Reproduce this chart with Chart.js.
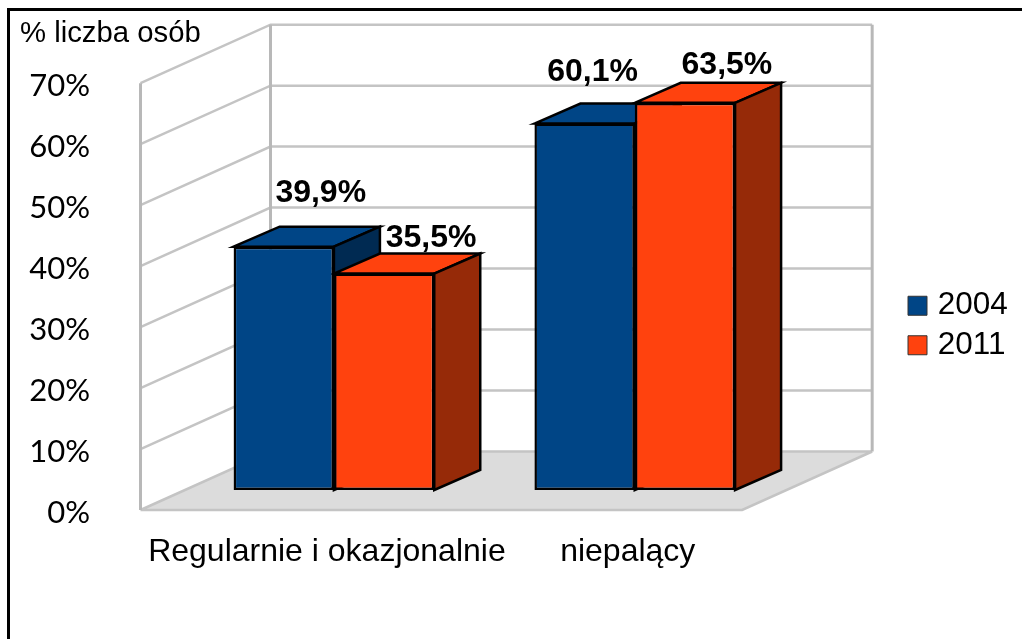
<!DOCTYPE html>
<html>
<head>
<meta charset="utf-8">
<style>
html,body{margin:0;padding:0;background:#fff;overflow:hidden}
#wrap{position:absolute;left:0;top:0;width:1022px;height:639px}
#frame{position:absolute;left:7px;top:8px;right:0;bottom:0;border-top:3px solid #000;border-left:3px solid #000;pointer-events:none}
</style>
<script src="https://cdn.jsdelivr.net/npm/chart.js@4"></script>
</head>
<body>
<div id="wrap"><canvas id="c" width="1022" height="639"></canvas><div id="frame"></div></div>
<script>
const categories = ['Regularnie i okazjonalnie', 'niepalący'];
const seriesNames = ['2004', '2011'];
const values2004 = [39.9, 60.1];
const values2011 = [35.5, 63.5];
const axisTitle = '% liczba osób';

const NAVY='#004586', ORANGE='#ff420e';
const sideColors=['#002a52','#962a08'];
const labelShift=[[[37,-54],[8,-51]],[[47,-35],[42,-38]]];

const scene3d={
  id:'scene3d',
  afterLayout(chart){
    const l=chart.legend;
    const w=l.right-l.left,h=l.bottom-l.top;
    l.left=905;l.right=l.left+w;l.top=282;l.bottom=l.top+h;
  },
  beforeDatasetsDraw(chart){
    const {ctx,chartArea:a,scales:{y}}=chart;
    const wx=130,wy=58.5,sh=43;
    const fl=a.left-sh,fr=a.right-sh;
    const y0=y.getPixelForValue(0);
    ctx.save();
    // floor
    ctx.fillStyle='#dcdcdc';
    ctx.beginPath();ctx.moveTo(fl,y0);ctx.lineTo(fl+wx,y0-wy);ctx.lineTo(fr+wx,y0-wy);ctx.lineTo(fr,y0);ctx.closePath();ctx.fill();
    // grid
    ctx.strokeStyle='#c4c4c4';ctx.lineWidth=2.5;
    y.ticks.forEach(t=>{
      const p=y.getPixelForValue(t.value);
      ctx.beginPath();ctx.moveTo(fl,p);ctx.lineTo(fl+wx,p-wy);
      ctx.lineTo(fr+wx,p-wy);
      if(t.value===0) {ctx.moveTo(fr+wx,p-wy);ctx.lineTo(fr,p);ctx.lineTo(fl,p);}
      ctx.stroke();
    });
    const pT=y.getPixelForValue(70);
    ctx.strokeStyle='#b8b8b8';ctx.lineWidth=3;
    [[fl,0],[fl+wx,wy],[fr+wx,wy]].forEach(([x,d])=>{
      ctx.beginPath();ctx.moveTo(x,pT-d);ctx.lineTo(x,y0-d);ctx.stroke();
    });
    // bar depth faces
    const dx=46,dy=20;
    ctx.strokeStyle='#000';ctx.lineWidth=2.5;ctx.lineJoin='miter';
    chart.data.datasets.forEach((ds,i)=>{
      chart.getDatasetMeta(i).data.forEach(b=>{
        const L=b.x-b.width/2,R=b.x+b.width/2,T=b.y,B=b.base;
        ctx.fillStyle=ds.backgroundColor;
        ctx.beginPath();ctx.moveTo(L,T);ctx.lineTo(L+dx,T-dy);ctx.lineTo(R+dx,T-dy);ctx.lineTo(R,T);ctx.closePath();ctx.fill();ctx.stroke();
        ctx.fillStyle=sideColors[i];
        ctx.beginPath();ctx.moveTo(R,T);ctx.lineTo(R+dx,T-dy);ctx.lineTo(R+dx,B-dy);ctx.lineTo(R,B);ctx.closePath();ctx.fill();ctx.stroke();
      });
    });
    ctx.restore();
  },
  afterDatasetsDraw(chart){
    const {ctx}=chart;
    ctx.save();
    ctx.font='bold 32px "Liberation Sans"';ctx.fillStyle='#000';ctx.textAlign='center';ctx.textBaseline='middle';
    chart.data.datasets.forEach((ds,i)=>{
      chart.getDatasetMeta(i).data.forEach((b,j)=>{
        const s=labelShift[i][j];
        ctx.fillText(ds.data[j].toFixed(1).replace('.',',')+'%',b.x+s[0],b.y+s[1]);
      });
    });
    ctx.restore();
  }
};

new Chart(document.getElementById('c'),{
  type:'bar',
  data:{labels:categories,datasets:[
    {label:seriesNames[0],data:values2004,backgroundColor:NAVY,borderColor:'#000',borderWidth:2.5,borderSkipped:false,yAxisID:'yb'},
    {label:seriesNames[1],data:values2011,backgroundColor:ORANGE,borderColor:'#000',borderWidth:2.5,borderSkipped:false,yAxisID:'yb'}
  ]},
  plugins:[scene3d],
  options:{
    responsive:false,animation:false,
    categoryPercentage:0.667,barPercentage:1,
    layout:{padding:{left:20,right:124,top:0,bottom:0}},
    plugins:{
      tooltip:{enabled:false},
      title:{display:true,text:axisTitle,align:'start',color:'#000',font:{family:'"Liberation Sans"',size:29.3,weight:'normal'},padding:{top:16,bottom:32}},
      legend:{position:'right',align:'start',labels:{
        color:'#000',font:{family:'"Liberation Sans"',size:31.5},boxWidth:9,boxHeight:19,padding:8,usePointStyle:true,
        generateLabels(chart){
          return chart.data.datasets.map((d,i)=>({text:d.label,fillStyle:d.backgroundColor,strokeStyle:'#333',lineWidth:1,pointStyle:'rect',datasetIndex:i,fontColor:'#000'}));
        }
      }}
    },
    scales:{
      x:{
        grid:{display:false,drawTicks:false},border:{display:false},
        ticks:{color:'#000',font:{family:'"Liberation Sans"',size:32},padding:23,labelOffset:-7,maxRotation:0,autoSkip:false},
        afterFit(s){s.height=129;s.paddingLeft=0;s.paddingRight=0;}
      },
      y:{
        position:'left',min:0,max:70,
        grid:{display:false,drawTicks:false},border:{display:false},
        ticks:{stepSize:10,color:'#000',font:{family:'Lato',size:31},padding:93.5,labelOffset:3,callback:v=>v+'%'},
        afterFit(s){s.width=163.5;s.paddingTop=0;s.paddingBottom=0;}
      },
      yb:{display:false,position:'left',min:-3.28,max:66.72}
    }
  }
});
</script>
</body>
</html>
